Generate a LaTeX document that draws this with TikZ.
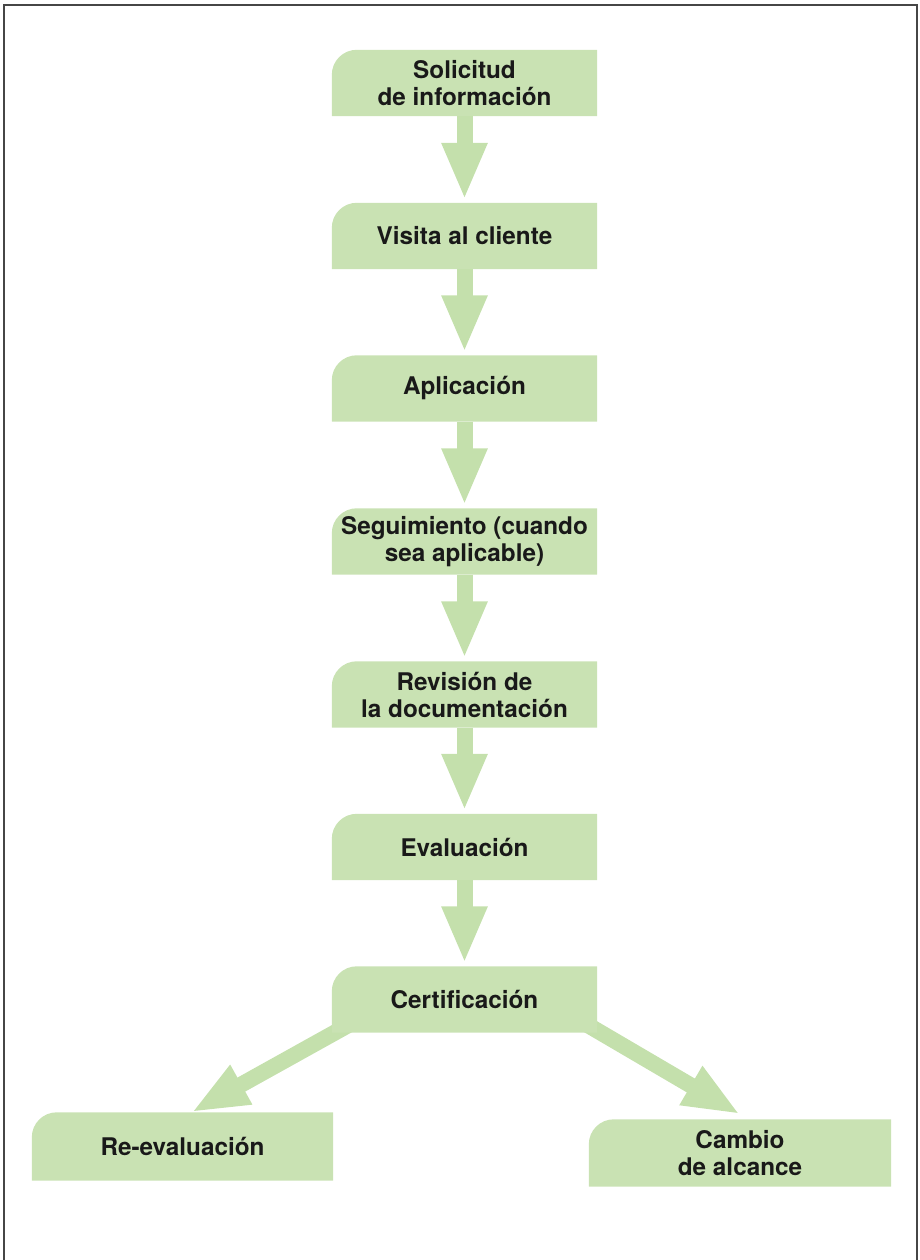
\documentclass[tikz,border=0pt]{standalone}
\usepackage{fontspec}
\setmainfont{TeX Gyre Heros}
\usetikzlibrary{arrows.meta,backgrounds}
\definecolor{boxgreen}{RGB}{201,226,179}
\definecolor{arrowgreen}{RGB}{196,224,172}
\definecolor{framegray}{RGB}{70,70,70}
\definecolor{txt}{RGB}{25,25,25}
\begin{document}
\begin{tikzpicture}[x=1pt,y=1pt,
  box/.style={minimum width=265pt,minimum height=66pt,inner sep=0pt,align=center,text=txt,font=\bfseries\fontsize{24.3}{27}\selectfont},
  flow/.style={line width=16pt,draw=arrowgreen,-{Triangle[width=42pt,length=57pt,fill=arrowgreen]}},
  diag/.style={line width=16pt,draw=arrowgreen,-{Triangle[width=41pt,length=57pt,fill=arrowgreen]}}]
\useasboundingbox (0,0) rectangle (920,1260);
\draw[framegray,line width=2pt] (4,0) -- (4,1255) -- (917,1255) -- (917,0);

\node[box] (n1) at (464.5,1177) {Solicitud\\de información};
\node[box] (n2) at (464.5,1024) {Visita al cliente};
\node[box] (n3) at (464.5,871.5) {Aplicación};
\node[box] (n4) at (464.5,718.5) {Seguimiento (cuando\\sea aplicable)};
\node[box] (n5) at (464.5,565.5) {Revisión de\\la documentación};
\node[box] (n6) at (464.5,413) {Evaluación};
\node[box] (n7) at (464.5,260.5) {Certificación};
\node[box,minimum width=301pt,minimum height=68pt] (re) at (182.5,113.5) {Re-evaluación};
\node[box,minimum width=302pt,minimum height=67pt] (ca) at (740,107) {Cambio\\de alcance};

\coordinate (ls) at ([xshift=28pt,yshift=14pt]n7.south west);
\coordinate (rs) at ([xshift=-22pt,yshift=15pt]n7.south east);

\begin{scope}[on background layer]
  \draw[flow] (n1.south) -- ([yshift=3pt]n2.north);
  \draw[flow] (n2.south) -- ([yshift=3pt]n3.north);
  \draw[flow] (n3.south) -- ([yshift=3pt]n4.north);
  \draw[flow] (n4.south) -- ([yshift=3pt]n5.north);
  \draw[flow] (n5.south) -- ([yshift=3pt]n6.north);
  \draw[flow] (n6.south) -- ([yshift=3pt]n7.north);
  \draw[diag] (ls) -- ([xshift=9pt]re.north);
  \draw[diag] (rs) -- ([yshift=5pt]ca.north);
  \foreach \n in {n1,n2,n3,n4,n5,n6,n7,re,ca}
    \fill[boxgreen] (\n.south west) -- ([yshift=-25pt]\n.north west)
      arc[start angle=180,end angle=90,radius=25pt] -- (\n.north east)
      -- (\n.south east) -- cycle;
\end{scope}
\end{tikzpicture}
\end{document}
